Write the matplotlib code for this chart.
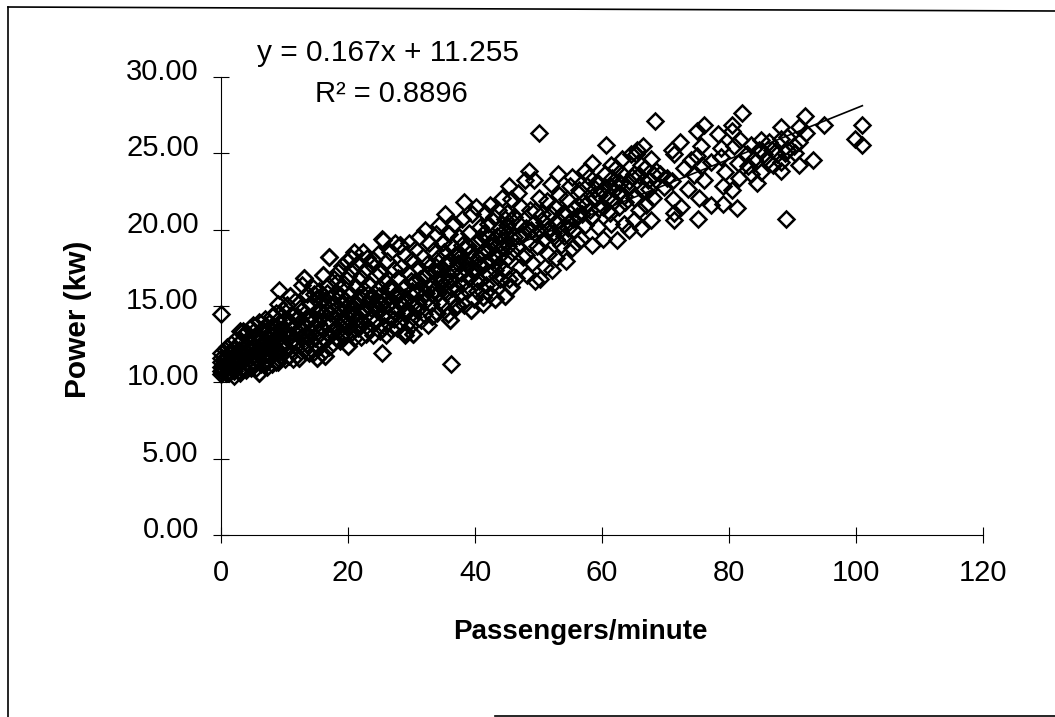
import matplotlib
matplotlib.use("Agg")
import matplotlib.pyplot as plt
from matplotlib.lines import Line2D
from matplotlib.transforms import ScaledTranslation
import numpy as np

plt.rcParams['font.family'] = ['Liberation Sans', 'DejaVu Sans']

W, H = 1055, 717

# points, in groups along the x axis
low_x = [0.0,0.0,0.0,0.0,0.0,0.0,0.0,0.3,0.4,0.5,
         0.6,0.8,0.9,1.0,1.0,1.1,1.2,1.3,1.5,1.6,
         1.7,1.8,2.0,2.0,2.1,2.2,2.4,2.5,2.6,2.8,
         2.9,3.0,3.0,3.1,3.2,3.4,3.5,3.6,3.8,3.9,
         4.0,4.0,4.1,4.2,4.3,4.5,4.6,4.7,4.8,5.0,
         5.0,5.1,5.2,5.3,5.5,5.6,5.7,5.8,6.0,6.0,
         6.1,6.2,6.3,6.5,6.6,6.7,6.8,7.0,7.0,7.1,
         7.2,7.3,7.5,7.6,7.7,7.8,8.0,8.0,8.1,8.2,
         8.3,8.5,8.6,8.7,8.8,9.0,9.0,9.1,9.2,9.3,
         9.5,9.6,9.7,9.8,10.0,10.0]
low_y = [14.3,10.5,10.8,11.1,11.4,10.3,11.7,10.6,11.2,10.9,
         11.9,10.4,11.5,10.7,12.1,11.0,11.7,10.4,11.3,12.3,
         10.8,11.8,10.5,12.0,11.2,12.6,10.9,11.5,12.3,10.6,
         11.9,10.4,13.2,11.1,12.5,11.7,10.8,12.9,11.3,12.1,
         10.6,13.1,11.8,12.4,10.9,11.4,13.4,12.0,10.7,12.7,
         11.1,13.6,11.6,12.2,10.7,13.0,11.3,12.5,10.4,13.8,
         11.9,12.8,11.0,13.3,12.2,10.9,11.6,14.0,12.6,11.2,
         13.2,10.8,12.0,13.7,11.5,12.9,11.0,14.2,12.4,13.5,
         11.8,12.7,11.1,14.4,13.1,11.4,15.0,12.2,13.7,12.8,
         11.6,13.3,14.6,12.4,11.3,14.0]

mid_x = [10.2,10.4,10.5,10.7,10.8,10.9,11.0,11.2,11.3,11.5,
         11.6,11.8,11.9,12.0,12.2,12.3,12.5,12.6,12.8,12.9,
         13.0,13.0,13.2,13.3,13.5,13.6,13.8,13.9,14.0,14.0,
         14.2,14.3,14.5,14.6,14.8,14.9,15.0,15.1,15.2,15.4,
         15.5,15.6,15.8,15.9,16.0,16.1,16.2,16.4,16.4,16.6,
         16.8,16.9,17.0,17.0,17.2,17.3,17.5,17.6,17.8,17.9,
         18.0,18.1,18.3,18.4,18.5,18.7,18.8,19.0,19.0,19.2,
         19.3,19.5,19.6,19.8,19.8,20.0,20.0,20.1,20.3,20.4,
         20.6,20.7,20.9,21.0,21.0,21.2,21.3,21.5,21.6,21.8,
         22.0,22.0,22.2,22.4,22.4,22.5,22.7,22.8,23.0,23.0,
         23.2,23.3,23.5,23.6,23.8,24.0,24.0,24.1,24.3,24.4,
         24.6,24.7,24.8,25.0,25.0,25.1,25.3,25.3,25.5,25.5,
         11.1,12.4,13.7,14.7,15.7,16.7,18.2,19.4,20.5,21.9]
mid_y = [12.1,14.9,13.0,11.5,15.5,13.8,12.5,14.3,11.3,13.4,
         15.2,12.2,14.0,11.6,13.1,11.4,14.7,12.7,16.2,13.6,
         16.7,11.9,14.4,12.9,15.6,12.3,13.9,11.7,15.0,13.2,
         12.6,14.2,16.0,11.8,13.5,15.3,12.2,11.4,14.6,13.0,
         15.8,12.5,14.1,11.7,13.3,16.9,15.0,11.5,12.6,14.5,
         13.0,16.2,18.1,12.1,15.3,13.8,14.8,12.4,16.6,13.4,
         15.7,12.8,14.3,17.1,13.2,16.0,12.5,14.9,17.5,13.7,
         16.3,12.9,15.2,17.8,14.1,12.2,16.8,13.5,15.6,14.6,
         13.1,17.3,15.0,18.4,12.7,16.1,14.0,17.7,13.4,15.4,
         16.7,12.8,14.5,18.4,13.7,15.9,17.2,13.0,14.9,18.0,
         16.3,13.4,15.3,17.6,14.2,17.9,12.9,15.7,13.8,16.9,
         14.6,18.3,15.1,13.2,17.0,16.0,11.7,19.3,14.2,19.2,
         12.9,13.3,12.9,15.6,14.5,15.7,16.4,14.0,18.0,14.0]

upper_x = [25.7,25.9,26.0,26.2,26.3,26.5,26.6,26.8,27.0,27.0,
           27.2,27.4,27.5,27.7,27.8,28.0,28.2,28.2,28.4,28.5,
           28.7,28.9,29.0,29.2,29.3,29.5,29.6,29.8,30.0,30.0,
           30.2,30.3,30.5,30.6,30.8,30.9,31.0,31.2,31.3,31.5,
           31.6,31.8,32.0,32.0,32.2,32.3,32.5,32.6,32.8,33.0,
           33.1,33.2,33.4,33.5,33.7,33.8,34.0,34.0,34.2,34.3,
           34.5,34.6,34.8,34.9,35.0,35.1,35.3,35.4,35.6,35.7,
           35.9,36.0,36.1,36.2,36.2,36.4,36.6,36.7,36.9,37.0,
           37.2,37.3,37.5,37.6,37.8,38.0,38.0,38.2,38.3,38.5,
           38.7,38.8,39.0,39.1,39.3,39.4,39.6,39.8,40.0,40.0,
           40.2,40.3,40.5,40.7,40.8,41.0,41.0,41.2,41.3,41.5,
           41.7,41.8,42.0,42.0,42.2,42.4,42.4,42.6,42.8,43.0,
           43.2,43.2,43.4,43.5,43.7,43.8,44.0,44.0,44.2,44.3,
           44.5,44.6,44.8,45.0,45.0,45.1,45.3,45.4,45.6,45.6,
           26.1,27.3,28.6,29.9,31.1,32.4,33.6,34.7,36.3,37.4,
           38.4,39.5,40.6,41.6,42.9,43.9,44.7,37.9,35.2,33.9]
upper_y = [13.5,16.5,12.9,17.8,15.0,14.1,18.4,13.3,16.1,15.2,
           17.3,19.0,14.4,13.4,16.7,15.6,18.9,13.8,17.4,14.9,
           16.0,13.1,18.2,14.5,15.3,17.0,19.0,13.5,15.8,17.9,
           14.1,13.0,16.5,18.6,15.0,14.6,17.4,19.4,16.0,13.9,
           15.4,18.1,14.3,16.8,19.9,15.7,17.6,13.6,19.0,15.0,
           16.3,14.2,18.5,17.1,15.5,19.6,14.4,16.6,18.0,20.2,
           15.2,17.3,14.9,19.1,16.2,18.4,20.9,15.7,17.7,14.3,
           19.6,16.5,13.9,11.0,18.8,15.3,17.2,20.3,14.7,16.0,
           14.9,18.3,19.4,15.6,17.0,20.6,16.3,21.7,14.9,18.7,
           15.9,17.6,19.7,16.7,14.6,18.4,20.9,15.3,17.2,19.0,
           21.4,15.8,18.0,16.5,20.1,19.3,17.4,15.0,15.4,21.0,
           16.2,18.6,17.0,20.3,19.4,21.5,15.6,17.9,16.3,20.7,
           15.3,18.3,19.5,16.8,21.2,17.6,16.6,20.0,18.7,22.0,
           19.2,17.2,15.5,21.0,18.0,20.2,22.8,16.6,16.1,21.9,
           14.9,14.0,15.2,16.5,15.0,16.9,15.9,16.4,16.0,17.7,
           17.3,17.2,17.6,17.7,18.9,19.0,20.6,18.9,17.6,17.4]

high_x = [45.9,46.2,46.4,46.7,46.9,47.1,47.3,47.5,47.8,48.0,
          48.2,48.5,48.5,48.7,49.0,49.2,49.3,49.5,49.8,50.0,
          50.1,50.3,50.5,50.8,51.0,51.3,51.5,51.8,51.9,52.1,
          52.3,52.6,52.8,53.0,53.0,53.3,53.6,53.8,54.0,54.3,
          54.5,54.8,55.0,55.2,55.3,55.5,55.8,56.0,56.1,56.4,
          56.7,57.0,57.3,57.4,57.7,58.0,58.2,58.5,58.5,58.8,
          59.1,59.3,59.6,60.0,60.2,60.4,60.6,60.9,61.2,61.4,
          61.4,61.6,61.9,62.2,62.4,62.6,62.9,63.2,63.2,63.4,
          63.7,64.0,64.2,64.5,64.7,65.0,65.0,65.3,65.5,65.8,
          66.1,66.2,66.4,66.6,67.0,67.3,67.7,67.7,68.0,68.4]
high_y = [18.4,20.7,16.7,22.3,19.5,17.4,21.4,18.1,23.2,20.0,
          16.9,23.8,19.0,21.2,17.7,20.3,23.2,16.5,18.8,22.0,
          26.3,16.6,20.9,19.3,17.4,21.8,18.3,20.0,22.9,17.2,
          19.7,21.4,18.0,23.6,20.5,22.2,18.9,21.0,19.5,17.8,
          21.9,20.4,22.8,18.7,23.4,19.9,21.3,20.8,19.0,22.5,
          19.3,21.7,20.2,23.8,22.8,23.4,20.7,24.3,18.9,21.9,
          23.0,20.1,21.3,22.5,19.3,23.6,25.5,21.1,22.8,24.2,
          20.3,23.3,21.8,24.0,19.2,22.3,23.0,24.6,23.6,20.3,
          21.7,22.7,19.9,24.9,23.4,20.5,22.0,24.9,25.2,21.2,
          20.0,24.2,25.4,22.6,21.5,23.2,20.5,24.6,22.0,27.1]

far_x = [89.0,93.2,91.0,88.2,81.2,79.1,77.2,75.1,71.3,71.3,
         72.4,71.2,75.3,73.5,80.4,79.0,84.4,85.1,81.6,83.4,
         76.1,74.5,81.4,79.3,86.2,88.2,76.1,75.0,80.4,80.4,
         78.2,72.3,71.1,71.3,85.0,88.2,91.1,92.1,91.0,88.2,
         89.2,87.6,89.2,86.3,83.4,81.8,80.8,78.7,78.7,77.1,
         75.6,75.0,74.0,75.8,72.9,70.3,69.2,68.5,71.1,69.8,
         82.1,92.0,94.9,100.9,99.9,101.0]
far_y = [20.6,24.5,24.2,23.8,21.3,21.6,21.5,20.6,20.5,21.0,
         21.4,21.9,22.0,22.6,22.5,22.8,23.0,23.7,23.3,23.6,
         23.2,23.5,24.3,23.7,24.5,24.4,26.8,26.4,26.8,26.4,
         26.2,25.7,25.2,24.9,25.8,26.7,26.7,26.3,25.7,25.9,
         26.0,24.9,25.2,25.7,25.5,25.8,25.4,25.3,24.7,24.4,
         25.4,24.8,24.5,24.2,24.0,23.3,23.6,23.8,23.1,22.7,
         27.6,27.4,26.8,26.8,25.9,25.5]

edge_x = [17.0,9.1,13.0,16.1,10.8,3.5,19.8,24.0,28.2,9.0,
          6.0,2.0,12.3,15.1,16.4,29.0,30.3,33.2,37.2,39.3,
          41.3,43.2,44.8,45.6,20.0,36.1]
edge_y = [18.1,15.9,16.7,16.9,15.5,13.2,17.8,17.9,18.9,11.1,
          10.4,10.2,11.4,11.4,11.5,12.9,13.0,14.2,14.9,14.6,
          15.4,15.3,15.5,16.1,12.2,13.9]

# second pass through the dense middle of the cloud
fill_x = [0.2,0.7,1.4,1.9,2.3,2.7,3.3,3.7,4.4,4.9,
          5.4,5.9,6.4,6.9,7.4,7.9,8.4,8.9,9.4,9.9,
          5.2,6.0,7.0,8.0,9.0,10.0,10.6,11.4,12.1,12.7,
          13.4,14.1,14.8,15.3,15.9,16.5,17.1,17.7,18.4,18.9,
          19.1,19.7,20.2,20.8,21.4,21.9,22.6,23.1,23.7,24.2,
          24.9,25.4,25.8,26.4,26.9,27.6,28.1,28.8,29.4,30.1,
          30.7,31.4,31.9,32.7,33.3,34.1,34.8,35.5,36.0,36.8,
          37.1,37.7,38.1,38.9,39.7,40.1,40.9,41.4,42.1,42.7,
          43.1,43.6,44.1,44.9,45.2,45.7,46.1,46.6,47.0,47.6,
          48.1,48.8,49.4,50.2,50.9,51.4,52.0,52.7,53.4,54.1,
          54.7,55.4,56.2,56.9,57.5,58.1,58.9,59.5,60.1,60.8,
          61.3,62.0,62.7,63.5,64.3,65.1,65.9,66.8,67.4,68.2,
          84.0,85.5,86.8,88.8,90.2,87.0,84.8,82.8,83.0,90.4]
fill_y = [10.7,11.3,10.9,11.1,11.6,11.2,10.7,11.6,11.3,11.9,
          11.4,12.0,11.5,12.1,11.7,12.2,13.0,11.7,12.3,12.9,
          13.2,11.6,13.0,13.2,13.9,12.5,12.7,12.6,14.1,13.2,
          14.0,13.7,12.7,13.7,15.3,13.7,14.4,13.1,14.8,15.5,
          13.0,13.6,14.9,14.3,15.0,13.5,14.6,15.6,14.7,14.8,
          15.5,15.0,15.3,16.0,14.6,15.6,15.2,14.4,14.5,15.0,
          15.7,16.6,15.1,16.1,15.6,15.7,16.7,16.4,17.9,18.2,
          17.4,18.1,17.9,18.8,18.0,16.4,18.3,19.7,18.5,19.1,
          17.2,18.1,19.6,19.6,18.8,20.5,19.4,18.8,20.3,19.6,
          18.2,19.9,21.1,19.9,20.4,19.9,20.9,19.3,19.9,20.8,
          20.0,20.6,21.5,20.9,21.6,21.2,22.6,22.2,21.4,22.0,
          21.0,22.9,21.4,22.1,23.1,23.6,23.5,24.0,22.6,23.5,
          24.6,24.9,25.2,25.0,25.4,24.2,25.2,24.9,24.1,25.0]

passengers = low_x + mid_x + upper_x + high_x + far_x + edge_x + fill_x
power = low_y + mid_y + upper_y + high_y + far_y + edge_y + fill_y

# the y readings above were taken against a slightly wrong axis position, this corrects them
power = np.array(power) * 0.989 + 0.327

trend_x = [0, 101]
trend_y = [11.255, 28.12]

x_ticks = [0, 20, 40, 60, 80, 100, 120]
y_ticks = [0, 5, 10, 15, 20, 25, 30]

fig = plt.figure(figsize=(W / 100, H / 100), dpi=100)
ax = fig.add_axes([221 / W, 1 - 535 / H, (983 - 221) / W, (535 - 77) / H])
ax.set_xlim(0, 120)
ax.set_ylim(0, 30)

for side in ['top', 'right']:
    ax.spines[side].set_visible(False)
for side in ['left', 'bottom']:
    ax.spines[side].set_linewidth(0.8)

ax.plot(trend_x, trend_y, color='black', lw=1.2, zorder=1)
ax.plot(passengers, power, linestyle='none', marker='D', ms=8.2, mfc='none',
        mec='black', mew=1.8, clip_on=False, zorder=2)

ax.set_xticks(x_ticks)
ax.set_yticks(y_ticks)
ax.set_yticklabels([f"{v:.2f}" for v in y_ticks])
ax.tick_params(axis='y', direction='inout', length=12, width=0.8, labelsize=21, pad=10)
ax.tick_params(axis='x', direction='inout', length=12, width=0.8, labelsize=21, pad=11)

# y labels sit a little above their ticks in the original
lift = ScaledTranslation(0, 8 / 100, fig.dpi_scale_trans)
for label in ax.get_yticklabels():
    label.set_transform(label.get_transform() + lift)

fig.text(580 / W, 1 - 632 / H, "Passengers/minute", fontsize=20,
         fontweight='bold', ha='center', va='center')
fig.text(78 / W, 1 - 319 / H, "Power (kw)", fontsize=21.5, fontweight='bold',
         rotation=90, ha='center', va='center')
fig.text(388 / W, 1 - 53 / H, "y = 0.167x + 11.255", fontsize=21.5, ha='center', va='center')
fig.text(391 / W, 1 - 94 / H, "R² = 0.8896", fontsize=21, ha='center', va='center')

# scanned frame round the chart, open on the right
frame = [([8, 8], [7, 717]), ([8, 1055], [7, 11]), ([495, 1055], [716, 716])]
for xs, ys in frame:
    fig.add_artist(Line2D(np.array(xs) / W, 1 - np.array(ys) / H, color='black', lw=1.2))

fig.savefig("out.png", dpi=100)
